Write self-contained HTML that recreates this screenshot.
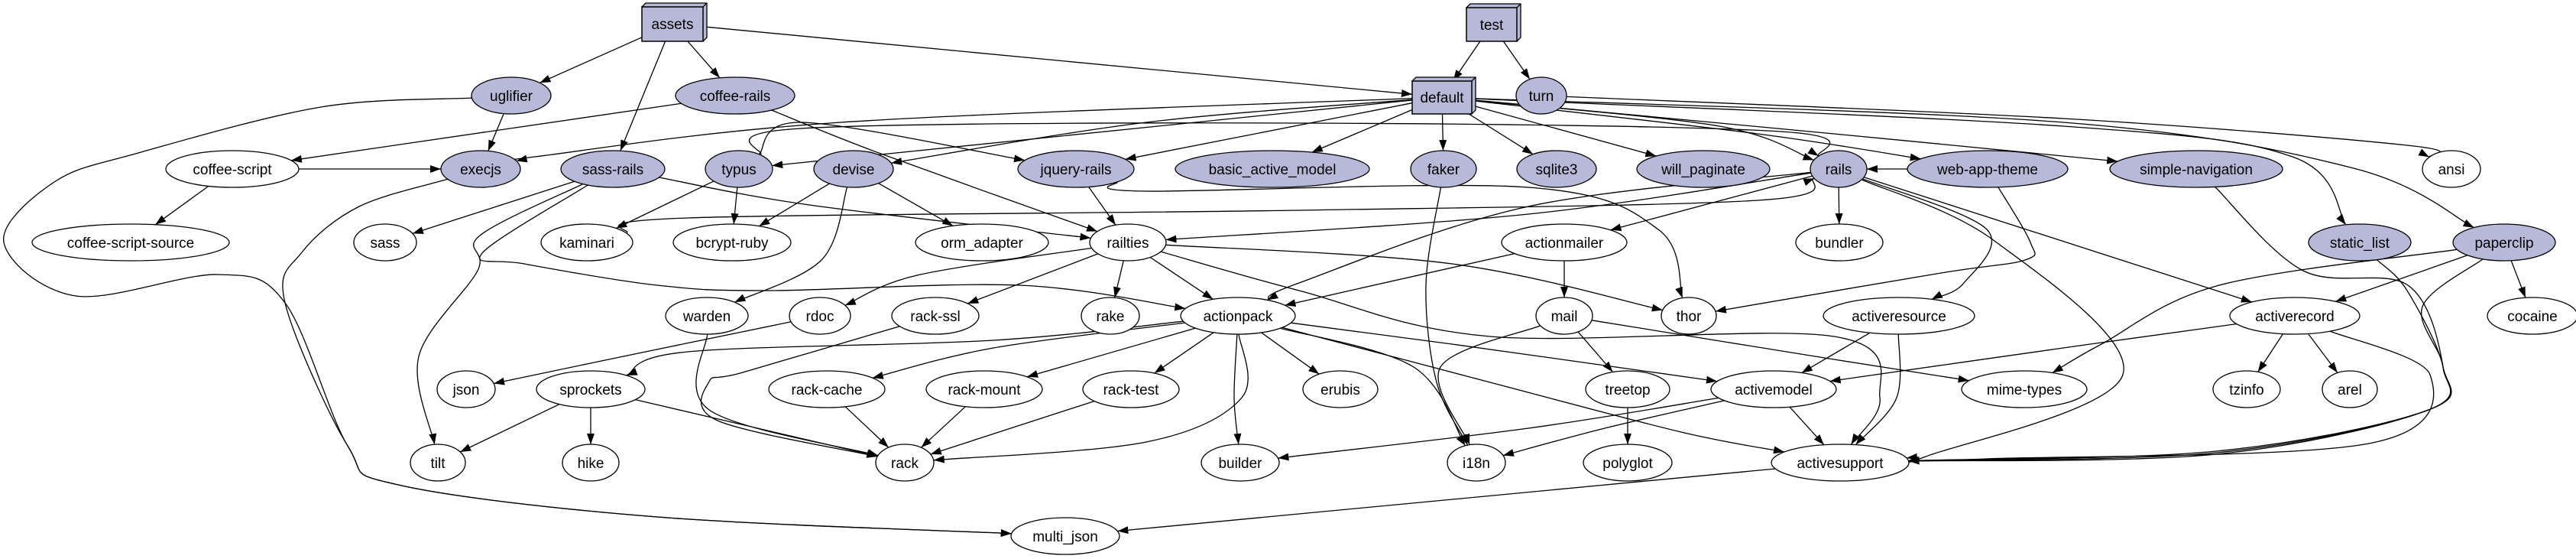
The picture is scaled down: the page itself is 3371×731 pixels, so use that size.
<!DOCTYPE html>
<html><head><meta charset="utf-8">
<style>
html,body{margin:0;padding:0;background:#fff;}
svg{display:block;}
text{font-family:"Liberation Sans",Arial,sans-serif;font-size:19px;fill:#000;}
</style></head>
<body>
<svg id="g" xmlns="http://www.w3.org/2000/svg" width="3371" height="731" viewBox="0 0 3371 731">
<defs>
<marker id="ah" markerUnits="userSpaceOnUse" markerWidth="14" markerHeight="10" viewBox="0 0 14 10" refX="14" refY="5" orient="auto">
<path d="M0,0 L14,5 L0,10 z" fill="#000"/>
</marker>
</defs>
<g id="edges"></g>
<g id="nodes"></g>
</svg>
<script>
var F="#b8b8d8";
var N={
 assets:{x:880,y:31,box:[840,9,80,45]},
 test:{x:1952,y:32,box:[1919,10,66,44]},
 "default":{x:1887,y:127,box:[1848,106,78,43]},
 uglifier:{x:669,y:125,rx:52,f:1},
 "coffee-rails":{x:962,y:125,rx:78,f:1},
 turn:{x:2017,y:125,rx:33,f:1},
 "coffee-script":{x:304,y:221,rx:87},
 execjs:{x:629,y:221,rx:52,f:1},
 "sass-rails":{x:802,y:221,rx:68,f:1},
 typus:{x:967,y:221,rx:44,f:1},
 devise:{x:1117,y:221,rx:52,f:1},
 "jquery-rails":{x:1408,y:221,rx:76,f:1},
 basic_active_model:{x:1665,y:221,rx:127,f:1},
 faker:{x:1889,y:221,rx:43,f:1},
 sqlite3:{x:2037,y:221,rx:52,f:1},
 will_paginate:{x:2229,y:221,rx:87,f:1},
 rails:{x:2406,y:221,rx:37,f:1},
 "web-app-theme":{x:2601,y:221,rx:105,f:1},
 "simple-navigation":{x:2874,y:221,rx:113,f:1},
 ansi:{x:3208,y:221,rx:38},
 "coffee-script-source":{x:171,y:317,rx:129},
 sass:{x:504,y:317,rx:41},
 kaminari:{x:768,y:317,rx:60},
 "bcrypt-ruby":{x:958,y:317,rx:77},
 orm_adapter:{x:1285,y:317,rx:87},
 railties:{x:1476,y:317,rx:50},
 actionmailer:{x:2047,y:317,rx:82},
 bundler:{x:2407,y:317,rx:57},
 static_list:{x:3088,y:317,rx:67,f:1},
 paperclip:{x:3277,y:317,rx:67,f:1},
 warden:{x:925,y:413,rx:54},
 rdoc:{x:1073,y:413,rx:40},
 "rack-ssl":{x:1224,y:413,rx:57},
 rake:{x:1453,y:413,rx:38},
 actionpack:{x:1620,y:413,rx:75},
 mail:{x:2047,y:413,rx:37},
 thor:{x:2210,y:413,rx:36},
 activeresource:{x:2485,y:413,rx:99},
 activerecord:{x:3003,y:413,rx:85},
 cocaine:{x:3314,y:413,rx:59},
 json:{x:610,y:509,rx:38},
 sprockets:{x:773,y:509,rx:71},
 "rack-cache":{x:1082,y:509,rx:76},
 "rack-mount":{x:1288,y:509,rx:76},
 "rack-test":{x:1480,y:509,rx:63},
 erubis:{x:1754,y:509,rx:49},
 treetop:{x:2130,y:509,rx:55},
 activemodel:{x:2321,y:509,rx:82},
 "mime-types":{x:2649,y:509,rx:82},
 tzinfo:{x:2940,y:509,rx:44},
 arel:{x:3075,y:509,rx:36},
 tilt:{x:573,y:605,rx:36},
 hike:{x:773,y:605,rx:37},
 rack:{x:1184,y:605,rx:38},
 builder:{x:1623,y:605,rx:51},
 i18n:{x:1932,y:605,rx:38},
 polyglot:{x:2130,y:605,rx:58},
 activesupport:{x:2408,y:605,rx:90},
 multi_json:{x:1394,y:701,rx:71}
};
var E=[
["assets","uglifier"],["assets","coffee-rails"],["assets","sass-rails"],["assets","default"],
["test","default"],["test","turn"],
["uglifier","execjs"],
["uglifier","multi_json",[[420,140],[181,200],[71,238],[5,317],[99,387],[285,359],[373,396],[455,583],[521,634],[860,676]]],
["execjs","multi_json",[[470,270],[395,330],[373,396],[455,583],[521,634],[860,676]]],
["coffee-rails","coffee-script"],["coffee-rails","railties",[[1150,200]]],
["coffee-script","execjs"],["coffee-script","coffee-script-source"],
["sass-rails","sass"],["sass-rails","railties",[[1059,268]]],
["sass-rails","tilt",[[628,308],[625,354],[548,466]]],
["sass-rails","actionpack",[[631,331],[686,345],[860,373],[1005,380],[1334,373]]],
["default","execjs",[[1100,160],[700,205]]],
["default","typus"],["default","devise",[[1500,160]]],["default","jquery-rails"],
["default","basic_active_model"],["default","faker"],["default","sqlite3"],["default","will_paginate"],
["default","rails",[[2250,165]]],["default","web-app-theme",[[2300,175]]],["default","simple-navigation",[[2400,175]]],
["default","static_list",[[2700,165],[3000,205]]],
["default","paperclip",[[2700,160],[3080,220]]],
["typus","rails",[[1048,168],[1700,161],[2330,172]]],
["typus","jquery-rails",[[1050,160]]],
["typus","kaminari"],["typus","bcrypt-ruby"],
["devise","bcrypt-ruby"],["devise","orm_adapter"],["devise","warden",[[1075,340]]],
["kaminari","rails",[[900,285],[1700,275],[2300,262]]],
["jquery-rails","railties"],["jquery-rails","thor",[[1500,250],[2000,245],[2170,300]]],
["turn","ansi",[[2700,155],[3150,190]]],
["railties","rdoc",[[1200,360]]],["railties","rack-ssl"],["railties","rake"],["railties","actionpack"],
["railties","thor",[[1900,345]]],
["railties","activesupport",[[1700,380],[1950,440],[2400,440],[2460,520]]],
["rails","railties",[[2000,280]]],
["rails","actionpack",[[2000,270],[1700,370]]],
["rails","actionmailer"],["rails","bundler"],["rails","activerecord"],
["rails","activeresource",[[2600,300],[2570,370]]],
["rails","activesupport",[[2610,315],[2778,490],[2520,597]]],
["web-app-theme","rails"],
["web-app-theme","thor",[[2657,317],[2650,340],[2540,357]]],
["simple-navigation","activesupport",[[3014,354],[3151,373],[3197,480],[3178,536],[2900,590]]],
["static_list","activesupport",[[3150,380],[3197,480],[3178,536],[2900,592]]],
["paperclip","activesupport",[[3170,401],[3197,480],[3178,536],[2900,594]]],
["paperclip","activerecord"],["paperclip","cocaine"],
["paperclip","mime-types",[[2904,373],[2750,450]]],
["actionmailer","actionpack"],["actionmailer","mail"],
["mail","treetop"],["mail","i18n",[[1885,480]]],["mail","mime-types",[[2400,470]]],
["faker","i18n",[[1866,373],[1880,500]]],
["actionpack","sprockets",[[1300,445],[900,460]]],
["actionpack","rack-cache",[[1300,455]]],["actionpack","rack-mount"],["actionpack","rack-test"],["actionpack","erubis"],
["actionpack","rack",[[1625,520],[1500,578]]],
["actionpack","builder",[[1615,520]]],
["actionpack","i18n",[[1850,480]]],
["actionpack","activemodel",[[1900,450]]],
["actionpack","activesupport",[[1950,500],[2200,565]]],
["rdoc","json",[[840,461]]],
["rack-ssl","rack",[[972,487],[928,499],[939,550]]],
["warden","rack",[[928,536]]],
["sprockets","tilt"],["sprockets","hike"],["sprockets","rack"],
["rack-cache","rack"],["rack-mount","rack"],["rack-test","rack"],
["activeresource","activemodel"],["activeresource","activesupport",[[2482,520]]],
["activerecord","activemodel",[[2700,455]]],["activerecord","tzinfo"],["activerecord","arel"],
["activerecord","activesupport",[[3180,490],[3100,580],[2600,600]]],
["activemodel","builder",[[2000,560]]],["activemodel","i18n",[[2100,560]]],["activemodel","activesupport"],
["treetop","polyglot"],
["activesupport","multi_json"]
];
function bnd(n,dx,dy){
 if(n.box){var hw=n.box[2]/2,hh=n.box[3]/2;var t=Math.min(hw/Math.abs(dx||1e-6),hh/Math.abs(dy||1e-6));return [n.x+dx*t,n.y+dy*t];}
 var t=1/Math.sqrt(dx*dx/(n.rx*n.rx)+dy*dy/(24*24));
 return [n.x+dx*t,n.y+dy*t];
}
var es="",ns="";
E.forEach(function(e){
 var a=N[e[0]],b=N[e[1]],c=e[2]||[];
 var f=c.length?c[0]:[b.x,b.y],l=c.length?c[c.length-1]:[a.x,a.y];
 var p0=bnd(a,f[0]-a.x,f[1]-a.y),p1=bnd(b,l[0]-b.x,l[1]-b.y);
 var P=[p0].concat(c).concat([p1]);
 var d="M"+P[0][0].toFixed(1)+","+P[0][1].toFixed(1);
 if(P.length==2){d+=" L"+P[1][0].toFixed(1)+","+P[1][1].toFixed(1);}
 else{
  for(var i=0;i<P.length-1;i++){
   var q0=P[i-1]||P[i],q1=P[i],q2=P[i+1],q3=P[i+2]||P[i+1];
   var c1=[q1[0]+(q2[0]-q0[0])/6,q1[1]+(q2[1]-q0[1])/6];
   var c2=[q2[0]-(q3[0]-q1[0])/6,q2[1]-(q3[1]-q1[1])/6];
   d+=" C"+c1[0].toFixed(1)+","+c1[1].toFixed(1)+" "+c2[0].toFixed(1)+","+c2[1].toFixed(1)+" "+q2[0].toFixed(1)+","+q2[1].toFixed(1);
  }
 }
 es+='<path d="'+d+'" fill="none" stroke="#000" stroke-width="1.3" marker-end="url(#ah)"/>';
});
for(var k in N){var n=N[k];
 if(n.box){var b=n.box,o=5;
  ns+='<path d="M'+b[0]+','+b[1]+' l'+o+','+(-o)+' h'+b[2]+' v'+b[3]+' l'+(-o)+','+o+' z" fill="'+F+'" stroke="#000" stroke-width="1.3"/>';
  ns+='<path d="M'+(b[0]+b[2])+','+b[1]+' l'+o+','+(-o)+'" stroke="#000" stroke-width="1.3"/>';
  ns+='<rect x="'+b[0]+'" y="'+b[1]+'" width="'+b[2]+'" height="'+b[3]+'" fill="'+F+'" stroke="#000" stroke-width="1.5"/>';
 } else {
  ns+='<ellipse cx="'+n.x+'" cy="'+n.y+'" rx="'+n.rx+'" ry="24" fill="'+(n.f?F:'#fff')+'" stroke="#000" stroke-width="1.3"/>';
 }
 ns+='<text x="'+n.x+'" y="'+(n.y+7)+'" text-anchor="middle">'+k+'</text>';
}
document.getElementById("edges").innerHTML=es;
document.getElementById("nodes").innerHTML=ns;
</script>
</body></html>
